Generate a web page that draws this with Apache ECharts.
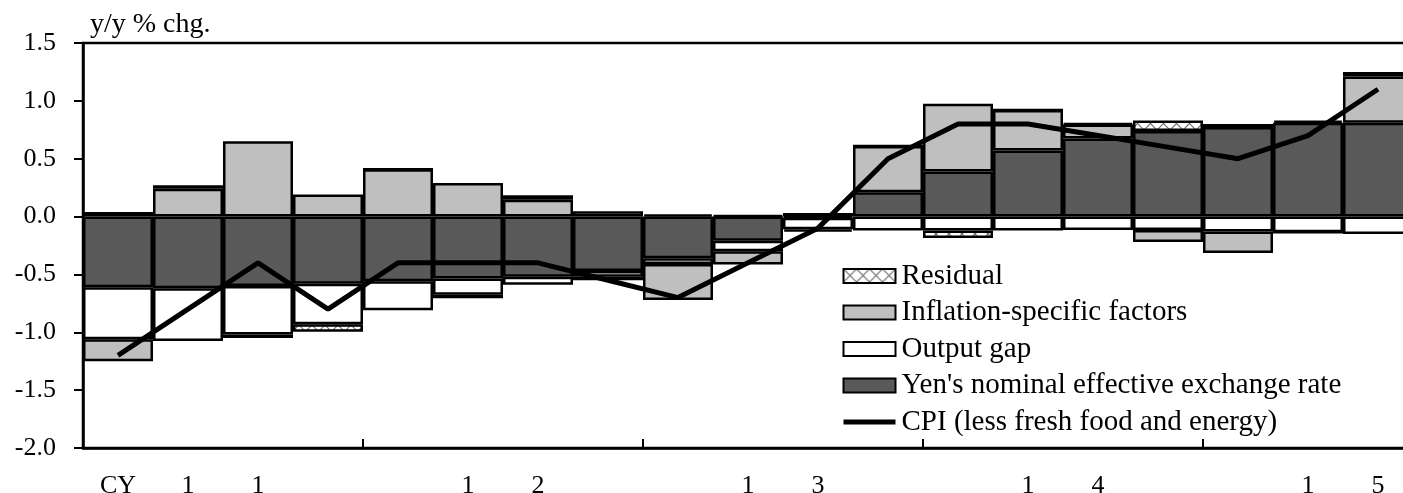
<!DOCTYPE html>
<html>
<head>
<meta charset="utf-8">
<script src="https://cdn.jsdelivr.net/npm/echarts@6/dist/echarts.min.js"></script>
<style>
html,body{margin:0;padding:0;background:#fff;overflow:hidden;}
#c{width:1403px;height:493px;}
</style>
</head>
<body>
<div id="c"></div>
<script>
// Quarters (CY2011 Q1 .. CY2015 Q4); the last one lies outside the picture
const categories = ['2011Q1','2011Q2','2011Q3','2011Q4','2012Q1','2012Q2','2012Q3','2012Q4',
  '2013Q1','2013Q2','2013Q3','2013Q4','2014Q1','2014Q2','2014Q3','2014Q4',
  '2015Q1','2015Q2','2015Q3','2015Q4'];
const xTickLabels = ['CY','1','1','','','1','2','','','1','3','','','1','4','','','1','5',''];
const yTickLabels = ['-2.0','-1.5','-1.0','-0.5','0.0','0.5','1.0','1.5'];

const yenNEER = [-0.61,-0.62,-0.60,-0.58,-0.56,-0.535,-0.52,-0.47,-0.36,-0.21,-0.01,0.21,0.39,0.57,0.675,0.74,0.775,0.81,0.81,null];
const outputGap = [-0.45,-0.455,-0.42,-0.35,-0.25,-0.14,-0.07,-0.05,-0.05,-0.09,-0.10,-0.12,-0.12,-0.12,-0.115,-0.115,-0.13,-0.135,-0.15,null];
const inflationSpecific = [-0.19,0.24,0.65,0.19,0.41,0.29,0.145,0.045,-0.31,-0.115,-0.02,0.40,0.585,0.35,0.12,-0.105,-0.185,0,0.40,null];
const residual = [0.04,0.03,-0.03,-0.065,0,-0.03,0.04,-0.03,0.02,0.01,0.03,0,-0.065,0,0.01,0.09,0.025,0.02,0.04,null];
const cpi = [-1.2,-0.8,-0.4,-0.8,-0.4,-0.4,-0.4,-0.55,-0.7,-0.4,-0.1,0.5,0.8,0.8,0.7,0.6,0.5,0.7,1.1,null];

const FONT = "'Liberation Serif','Times New Roman',serif";

// cross-hatch pattern for residual
const pc = document.createElement('canvas');
pc.width = 13; pc.height = 13;
const g = pc.getContext('2d');
g.fillStyle = '#ffffff'; g.fillRect(0,0,13,13);
g.strokeStyle = '#707070'; g.lineWidth = 1.2;
g.beginPath(); g.moveTo(0,0); g.lineTo(13,13); g.moveTo(13,0); g.lineTo(0,13); g.stroke();
const hatch = {image: pc, repeat: 'repeat'};

const chart = echarts.init(document.getElementById('c'), null, {renderer:'canvas'});
const BW = 2.5;
function barSeries(name, data, color){
  return {
    name, type:'bar', stack:'total', data,
    barCategoryGap:'0%',
    itemStyle:{color, borderColor:'#000', borderWidth:BW},
    emphasis:{disabled:true}, animation:false
  };
}
const cpiName = 'CPI (less fresh food and energy)';
chart.setOption({
  animation:false,
  grid:{left:83, top:43, width:1400, height:405, outerBoundsMode:'none', containLabel:false,
    show:true, borderColor:'#000', borderWidth:2.5, backgroundColor:'transparent'},
  graphic:[{type:'text', left:90, top:11, style:{text:'y/y % chg.', font:"28px "+FONT, fill:'#000'}}],
  legend:{
    left:841, top:261, orient:'vertical', padding:0, itemGap:6.5,
    itemWidth:52, itemHeight:14,
    textStyle:{fontFamily:FONT, fontSize:29, color:'#000', lineHeight:30, padding:[0,0,0,1]},
    data:[
      {name:'Residual', icon:'rect'},
      {name:'Inflation-specific factors', icon:'rect'},
      {name:'Output gap', icon:'rect'},
      {name:"Yen's nominal effective exchange rate", icon:'rect'},
      {name:cpiName, itemStyle:{opacity:0}, lineStyle:{width:5, color:'#000'}}]
  },
  xAxis:{
    type:'category', data:categories, boundaryGap:true,
    axisLine:{onZero:false, lineStyle:{color:'#000', width:2.5}},
    axisTick:{show:true, inside:true, length:9, lineStyle:{color:'#000', width:2},
      interval:function(i){return i>0 && i%4===0;}},
    axisLabel:{interval:0, margin:25, fontFamily:FONT, fontSize:26, color:'#000',
      formatter:function(v, i){return xTickLabels[i];}},
    splitLine:{show:false}
  },
  yAxis:{
    type:'value', min:-2, max:1.5, interval:0.5,
    axisLine:{show:true, lineStyle:{color:'#000', width:2.5}},
    axisTick:{show:true, inside:false, length:9, lineStyle:{color:'#000', width:2}},
    axisLabel:{margin:27, fontFamily:FONT, fontSize:26, color:'#000',
      formatter:function(v){const i=Math.round((v+2)/0.5); return yTickLabels[i];}},
    splitLine:{show:false}
  },
  series:[
    barSeries("Yen's nominal effective exchange rate", yenNEER, '#595959'),
    barSeries('Output gap', outputGap, '#ffffff'),
    barSeries('Inflation-specific factors', inflationSpecific, '#bfbfbf'),
    barSeries('Residual', residual, hatch),
    {name:cpiName, type:'line', data:cpi, symbol:'none', showSymbol:false,
      lineStyle:{color:'#000', width:5}, itemStyle:{color:'#000'}, z:5, emphasis:{disabled:true}, animation:false}
  ]
});
</script>
</body>
</html>
